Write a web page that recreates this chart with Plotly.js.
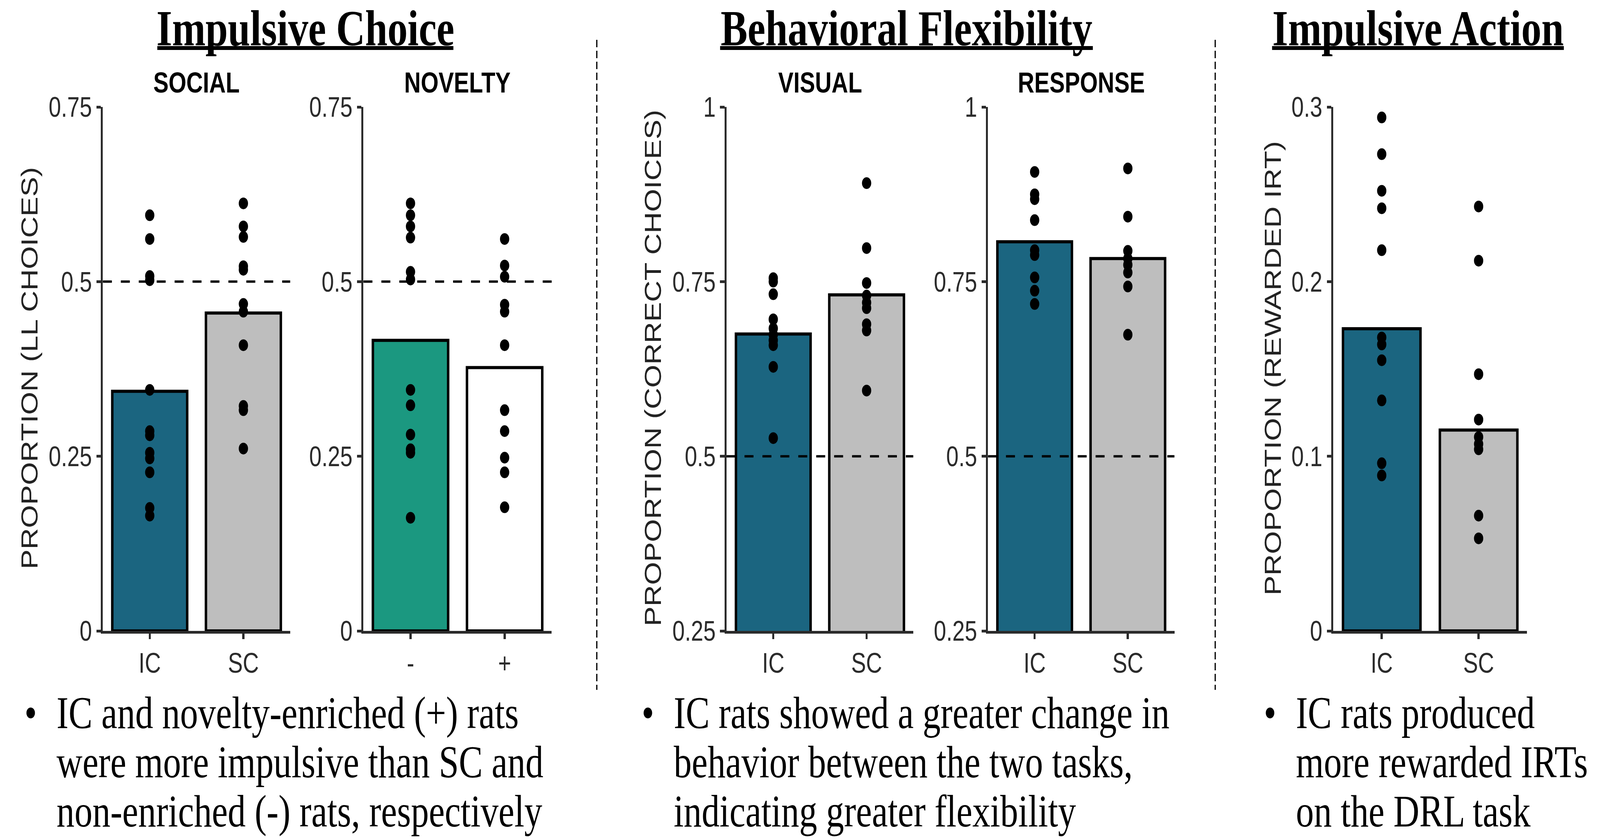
<!DOCTYPE html>
<html>
<head>
<meta charset="utf-8">
<script src="https://cdn.plot.ly/plotly-3.0.1.min.js"></script>
<style>html,body{margin:0;padding:0;background:#fff;overflow:hidden;}#wrap{transform-origin:0 0;width:5177px;height:2149px;}#chart{display:block;}</style>
</head>
<body>
<div id="wrap"><div id="chart"></div></div>
<script>
// ---------------- DATA ----------------
const groupsSocial = ["IC", "SC"];
const groupsNovelty = ["-", "+"];

const socialBar = [0.343, 0.455];
const socialIC = [0.595, 0.561, 0.508, 0.502, 0.345, 0.286, 0.280, 0.255, 0.247, 0.227, 0.176, 0.165];
const socialSC = [0.612, 0.579, 0.564, 0.522, 0.517, 0.468, 0.457, 0.409, 0.322, 0.316, 0.261];

const noveltyBar = [0.416, 0.377];
const noveltyMinus = [0.612, 0.595, 0.579, 0.563, 0.514, 0.503, 0.345, 0.323, 0.281, 0.260, 0.255, 0.162];
const noveltyPlus = [0.561, 0.523, 0.507, 0.467, 0.457, 0.409, 0.316, 0.286, 0.248, 0.227, 0.177];

const visualBar = [0.675, 0.731];
const visualIC = [0.755, 0.750, 0.732, 0.696, 0.683, 0.674, 0.666, 0.659, 0.628, 0.526];
const visualSC = [0.891, 0.798, 0.748, 0.730, 0.720, 0.712, 0.689, 0.680, 0.594];

const responseBar = [0.807, 0.783];
const responseIC = [0.907, 0.875, 0.868, 0.838, 0.795, 0.788, 0.756, 0.737, 0.718];
const responseSC = [0.912, 0.843, 0.794, 0.783, 0.774, 0.763, 0.743, 0.674];

const drlBar = [0.173, 0.115];
const drlIC = [0.294, 0.273, 0.252, 0.242, 0.218, 0.168, 0.164, 0.155, 0.132, 0.096, 0.089];
const drlSC = [0.243, 0.212, 0.147, 0.121, 0.111, 0.107, 0.104, 0.066, 0.053];

const yTicks12 = [0, 0.25, 0.5, 0.75];
const yTickText12 = ["0", "0.25", "0.5", "0.75"];
const yTicks34 = [0.25, 0.5, 0.75, 1];
const yTickText34 = ["0.25", "0.5", "0.75", "1"];
const yTicks5 = [0, 0.1, 0.2, 0.3];
const yTickText5 = ["0", "0.1", "0.2", "0.3"];
const chanceLevel = 0.5;

const panelTitles = ["SOCIAL", "NOVELTY", "VISUAL", "RESPONSE"];
const sectionTitles = ["Impulsive Choice", "Behavioral Flexibility", "Impulsive Action"];
const yTitles = ["PROPORTION (LL CHOICES)", "PROPORTION (CORRECT CHOICES)", "PROPORTION (REWARDED IRT)"];
const bullets1 = ["IC and novelty-enriched (+) rats", "were more impulsive than SC and", "non-enriched (-) rats, respectively"];
const bullets2 = ["IC rats showed a greater change in", "behavior between the two tasks,", "indicating greater flexibility"];
const bullets3 = ["IC rats produced", "more rewarded IRTs", "on the DRL task"];

const colIC = "#1b6580";
const colSC = "#bebebe";
const colMinus = "#1b9880";
const colPlus = "#ffffff";

// ---------------- LAYOUT HELPERS ----------------
const BW = 5177, BH = 2149;               // design size (reference pixels)
const W = BW, H = BH;
const px = v => v / BW;
const py = v => 1 - v / BH;
const AX = "#2b2b2b";
const sans = "Liberation Sans, Arial, sans-serif";
const serif = "Liberation Serif, Times New Roman, serif";

// fit the drawing to the visible window width (the window may be narrower than the design)
const vw = Math.min(window.innerWidth || BW, document.documentElement.clientWidth || BW);
const sx = Math.min(1, vw / BW);
document.getElementById("wrap").style.transform = "scale(" + sx + ",1)";

const yDom = [py(1616), py(274)];
const xDoms = [[px(333), px(939)], [px(1176), px(1785)], [px(2351), px(2955)], [px(3197), px(3800)], [px(4314), px(4941)]];

function xAxis(i, cats) {
  return {
    domain: xDoms[i], anchor: i === 0 ? "y" : "y" + (i + 1),
    type: "category", categoryorder: "array", categoryarray: cats, range: [-0.5, 1.5],
    showline: true, linecolor: AX, linewidth: 7, ticks: "outside", ticklen: 14, tickwidth: 7, tickcolor: AX,
    tickfont: {family: sans, size: 72, color: AX}, showgrid: false, zeroline: false, fixedrange: true
  };
}
function yAxis(i, range, tv, tt) {
  return {
    domain: yDom, anchor: i === 0 ? "x" : "x" + (i + 1), range: range,
    tickmode: "array", tickvals: tv, ticktext: tt,
    showline: true, linecolor: AX, linewidth: 7, ticks: "outside", ticklen: 14, tickwidth: 7, tickcolor: AX,
    tickfont: {family: sans, size: 72, color: AX}, showgrid: false, zeroline: false, fixedrange: true
  };
}

const traces = [];
function panel(i, cats, means, colors, g1, g2) {
  const xa = i === 0 ? "x" : "x" + (i + 1);
  const ya = i === 0 ? "y" : "y" + (i + 1);
  traces.push({type: "bar", x: cats, y: means, xaxis: xa, yaxis: ya, width: 0.8,
    marker: {color: colors, line: {color: "#000", width: 8}}, hoverinfo: "skip"});
  const xs = g1.map(() => cats[0]).concat(g2.map(() => cats[1]));
  traces.push({type: "scatter", mode: "markers", x: xs, y: g1.concat(g2), xaxis: xa, yaxis: ya,
    marker: {color: "#000", size: 30, line: {width: 0}}, hoverinfo: "skip", cliponaxis: false});
}
panel(0, groupsSocial, socialBar, [colIC, colSC], socialIC, socialSC);
panel(1, groupsNovelty, noveltyBar, [colMinus, colPlus], noveltyMinus, noveltyPlus);
panel(2, groupsSocial, visualBar, [colIC, colSC], visualIC, visualSC);
panel(3, groupsSocial, responseBar, [colIC, colSC], responseIC, responseSC);
panel(4, groupsSocial, drlBar, [colIC, colSC], drlIC, drlSC);

const shapes = [];
["x", "x2", "x3", "x4"].forEach((xa, k) => {
  const ya = k === 0 ? "y" : "y" + (k + 1);
  shapes.push({type: "line", xref: xa + " domain", x0: 0, x1: 1, yref: ya, y0: chanceLevel, y1: chanceLevel,
    line: {color: "#000", width: 6, dash: "29px,29px"}, layer: "above"});
});
[1931, 3932].forEach(xv => shapes.push({type: "line", xref: "paper", yref: "paper", x0: px(xv), x1: px(xv),
  y0: py(102), y1: py(1767), line: {color: "#000", width: 4, dash: "19px,9px"}}));
[[509, 1467], [2330, 3536], [4116, 5060]].forEach(r => shapes.push({type: "line", xref: "paper", yref: "paper",
  x0: px(r[0]), x1: px(r[1]), y0: py(123), y1: py(123), line: {color: "#000", width: 10}}));

const ann = [];
[988, 2933, 4588].forEach((xc, k) => ann.push({text: "<b>" + sectionTitles[k] + "</b>", xref: "paper", yref: "paper",
  x: px(xc), y: py(72), xanchor: "center", yanchor: "middle", showarrow: false,
  font: {family: serif, size: 130, color: "#000"}}));
[636, 1480, 2653, 3498].forEach((xc, k) => ann.push({text: "<b>" + panelTitles[k] + "</b>", xref: "paper", yref: "paper",
  x: px(xc), y: py(212), xanchor: "center", yanchor: "middle", showarrow: false,
  font: {family: sans, size: 74, color: "#000"}}));
[95, 2112, 4118].forEach((xc, k) => ann.push({text: yTitles[k], xref: "paper", yref: "paper",
  x: px(xc), y: py(943), xanchor: "center", yanchor: "middle", textangle: -90, showarrow: false,
  font: {family: sans, size: 76, color: "#222"}}));
const cols = [[bullets1, 99, 181], [bullets2, 2096, 2178], [bullets3, 4109, 4191]];
const lineY = [1826, 1952, 2078];
cols.forEach(c => {
  ann.push({text: "•", xref: "paper", yref: "paper", x: px(c[1]), y: py(lineY[0]), xanchor: "center", yanchor: "middle",
    showarrow: false, font: {family: serif, size: 116, color: "#000"}});
  c[0].forEach((t, j) => ann.push({text: t, xref: "paper", yref: "paper", x: px(c[2]), y: py(lineY[j]),
    xanchor: "left", yanchor: "middle", showarrow: false, font: {family: serif, size: 116, color: "#000"}}));
});

const layout = {
  width: W, height: H, margin: {l: 0, r: 0, t: 0, b: 0, pad: 0}, paper_bgcolor: "#fff", plot_bgcolor: "rgba(0,0,0,0)",
  showlegend: false,
  xaxis: xAxis(0, groupsSocial), xaxis2: xAxis(1, groupsNovelty), xaxis3: xAxis(2, groupsSocial),
  xaxis4: xAxis(3, groupsSocial), xaxis5: xAxis(4, groupsSocial),
  yaxis: yAxis(0, [0, 0.75], yTicks12, yTickText12), yaxis2: yAxis(1, [0, 0.75], yTicks12, yTickText12),
  yaxis3: yAxis(2, [0.25, 1], yTicks34, yTickText34), yaxis4: yAxis(3, [0.25, 1], yTicks34, yTickText34),
  yaxis5: yAxis(4, [0, 0.3], yTicks5, yTickText5),
  shapes: shapes, annotations: ann
};
Plotly.newPlot("chart", traces, layout, {staticPlot: true, displayModeBar: false});
</script>
</body>
</html>
